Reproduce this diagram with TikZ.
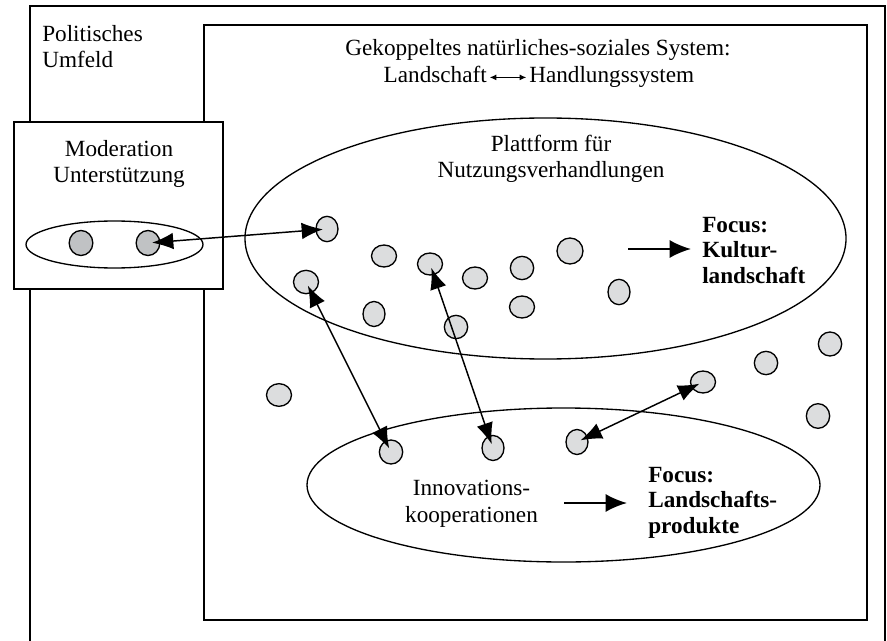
\documentclass[tikz,border=0pt]{standalone}
\usepackage{fontspec}
\setmainfont{Liberation Serif}
\usetikzlibrary{shapes.geometric,arrows.meta}

\definecolor{dotgray}{RGB}{220,221,222}
\definecolor{darkdot}{RGB}{192,194,196}

\tikzset{
  dot/.style={ellipse, draw, line width=1pt, fill=dotgray, inner sep=0pt},
  ring/.style={ellipse, draw, line width=1pt, inner sep=0pt},
  lbl/.style={inner sep=0pt, font=\fontsize{17.4}{20}\selectfont, align=center},
  focus/.style={inner sep=0pt, font=\fontsize{17.4}{19}\selectfont\bfseries, align=left},
  link/.style={line width=1.1pt, {Latex[length=16pt,width=12.5pt]}-{Latex[length=16pt,width=12.5pt]}, shorten <=3pt, shorten >=3pt},
  goes/.style={line width=1.5pt, -{Latex[length=16pt,width=13.5pt]}}
}

\begin{document}
\begin{tikzpicture}[x=0.75pt, y=-0.75pt]

        \useasboundingbox (0,0) rectangle (887,641);

        % Politisches Umfeld
        \draw[line width=1.3pt] (30,641) -- (30,6) -- (885,6) -- (885,641);
        \node[lbl, anchor=base west, align=left] (umfeld) at (42,68) {Politisches\\Umfeld};

        % gekoppeltes System
        \draw[line width=1.3pt] (204,25) rectangle (867,620);
        \node[lbl, anchor=base] (system) at (538,56) {Gekoppeltes natürliches-soziales System:};
        \node[lbl, anchor=base east] (land) at (487,83) {Landschaft};
        \node[lbl, anchor=base west] (hand) at (529,83) {Handlungssystem};
        \draw[line width=0.9pt, {Latex[length=5pt,width=4.5pt]}-{Latex[length=5pt,width=4.5pt]}]
          ([xshift=2pt, yshift=4.2pt]land.base east) -- ([xshift=-2pt, yshift=4.2pt]hand.base west);

        % Moderation
        \draw[line width=1.3pt, fill=white] (14,122) rectangle (223,289);
        \node[lbl, anchor=base] (moderation) at (119,183) {Moderation\\Unterstützung};
        \node[ring, minimum width=132.75pt, minimum height=35.25pt] (mod) at (114.5,244.5) {};
        \node[dot, fill=darkdot, minimum width=17.75pt, minimum height=18.75pt] (m1) at (81,243) {};
        \node[dot, fill=darkdot, minimum width=17.75pt, minimum height=18.75pt] (m2) at (148,243) {};

        % Plattform
        \node[ring, minimum width=450.75pt, minimum height=180.75pt] (plattform) at (545.5,238.5) {};
        \node[lbl, anchor=base] (pname) at (551,178) {Plattform für\\Nutzungsverhandlungen};
        \node[focus, anchor=base west] (kultur) at (702,283) {Focus:\\Kultur-\\landschaft};
        \coordinate (k1) at (628,249);
        \coordinate (k2) at (691,249);
        \draw[goes] (k1) -- (k2);

        % Innovationskooperationen
        \node[ring, minimum width=384.75pt, minimum height=115.5pt] (innovation) at (563.5,485) {};
        \node[lbl, anchor=base] (iname) at (471.5,522) {Innovations-\\kooperationen};
        \node[focus, anchor=base west] (produkte) at (648,533) {Focus:\\Landschafts-\\produkte};
        \coordinate (p1) at (564,503);
        \coordinate (p2) at (627,503);
        \draw[goes] (p1) -- (p2);

        % Akteure
        \foreach \n/\px/\py/\w/\h in {1/327/229/16.5/19, 2/384/256/18.75/16.5, 3/430/264/18.75/16.5,
            4/306/282/18.75/17.5, 5/374/314/16.5/18.75, 6/475/278/18.75/16.5, 7/522/268/17.5/17.5,
            8/570/251/19.5/19.5, 9/522/307/18.75/16.5, 10/619/292/16.5/19, 11/456/327/17.5/17.5,
            12/279/395/18.75/17, 13/391/452/17.5/18, 14/493/448/16.5/18.75, 15/577/442/16.5/18.75,
            16/703/382/18.75/16.5, 17/766/363/17.5/17.5, 18/830/344/17.5/18, 19/818/416/17.5/18.5}{
            \node[dot, minimum width=\w pt, minimum height=\h pt] (c\n) at (\px,\py) {};
        }

        % Pfeile
        \draw[link] (m2.center) -- (c1.center);
        \draw[link] (c4.center) -- (c13.center);
        \draw[link] (c3.center) -- (c14.center);
        \draw[link] (c15.center) -- (c16.center);

        \end{tikzpicture}
\end{document}
